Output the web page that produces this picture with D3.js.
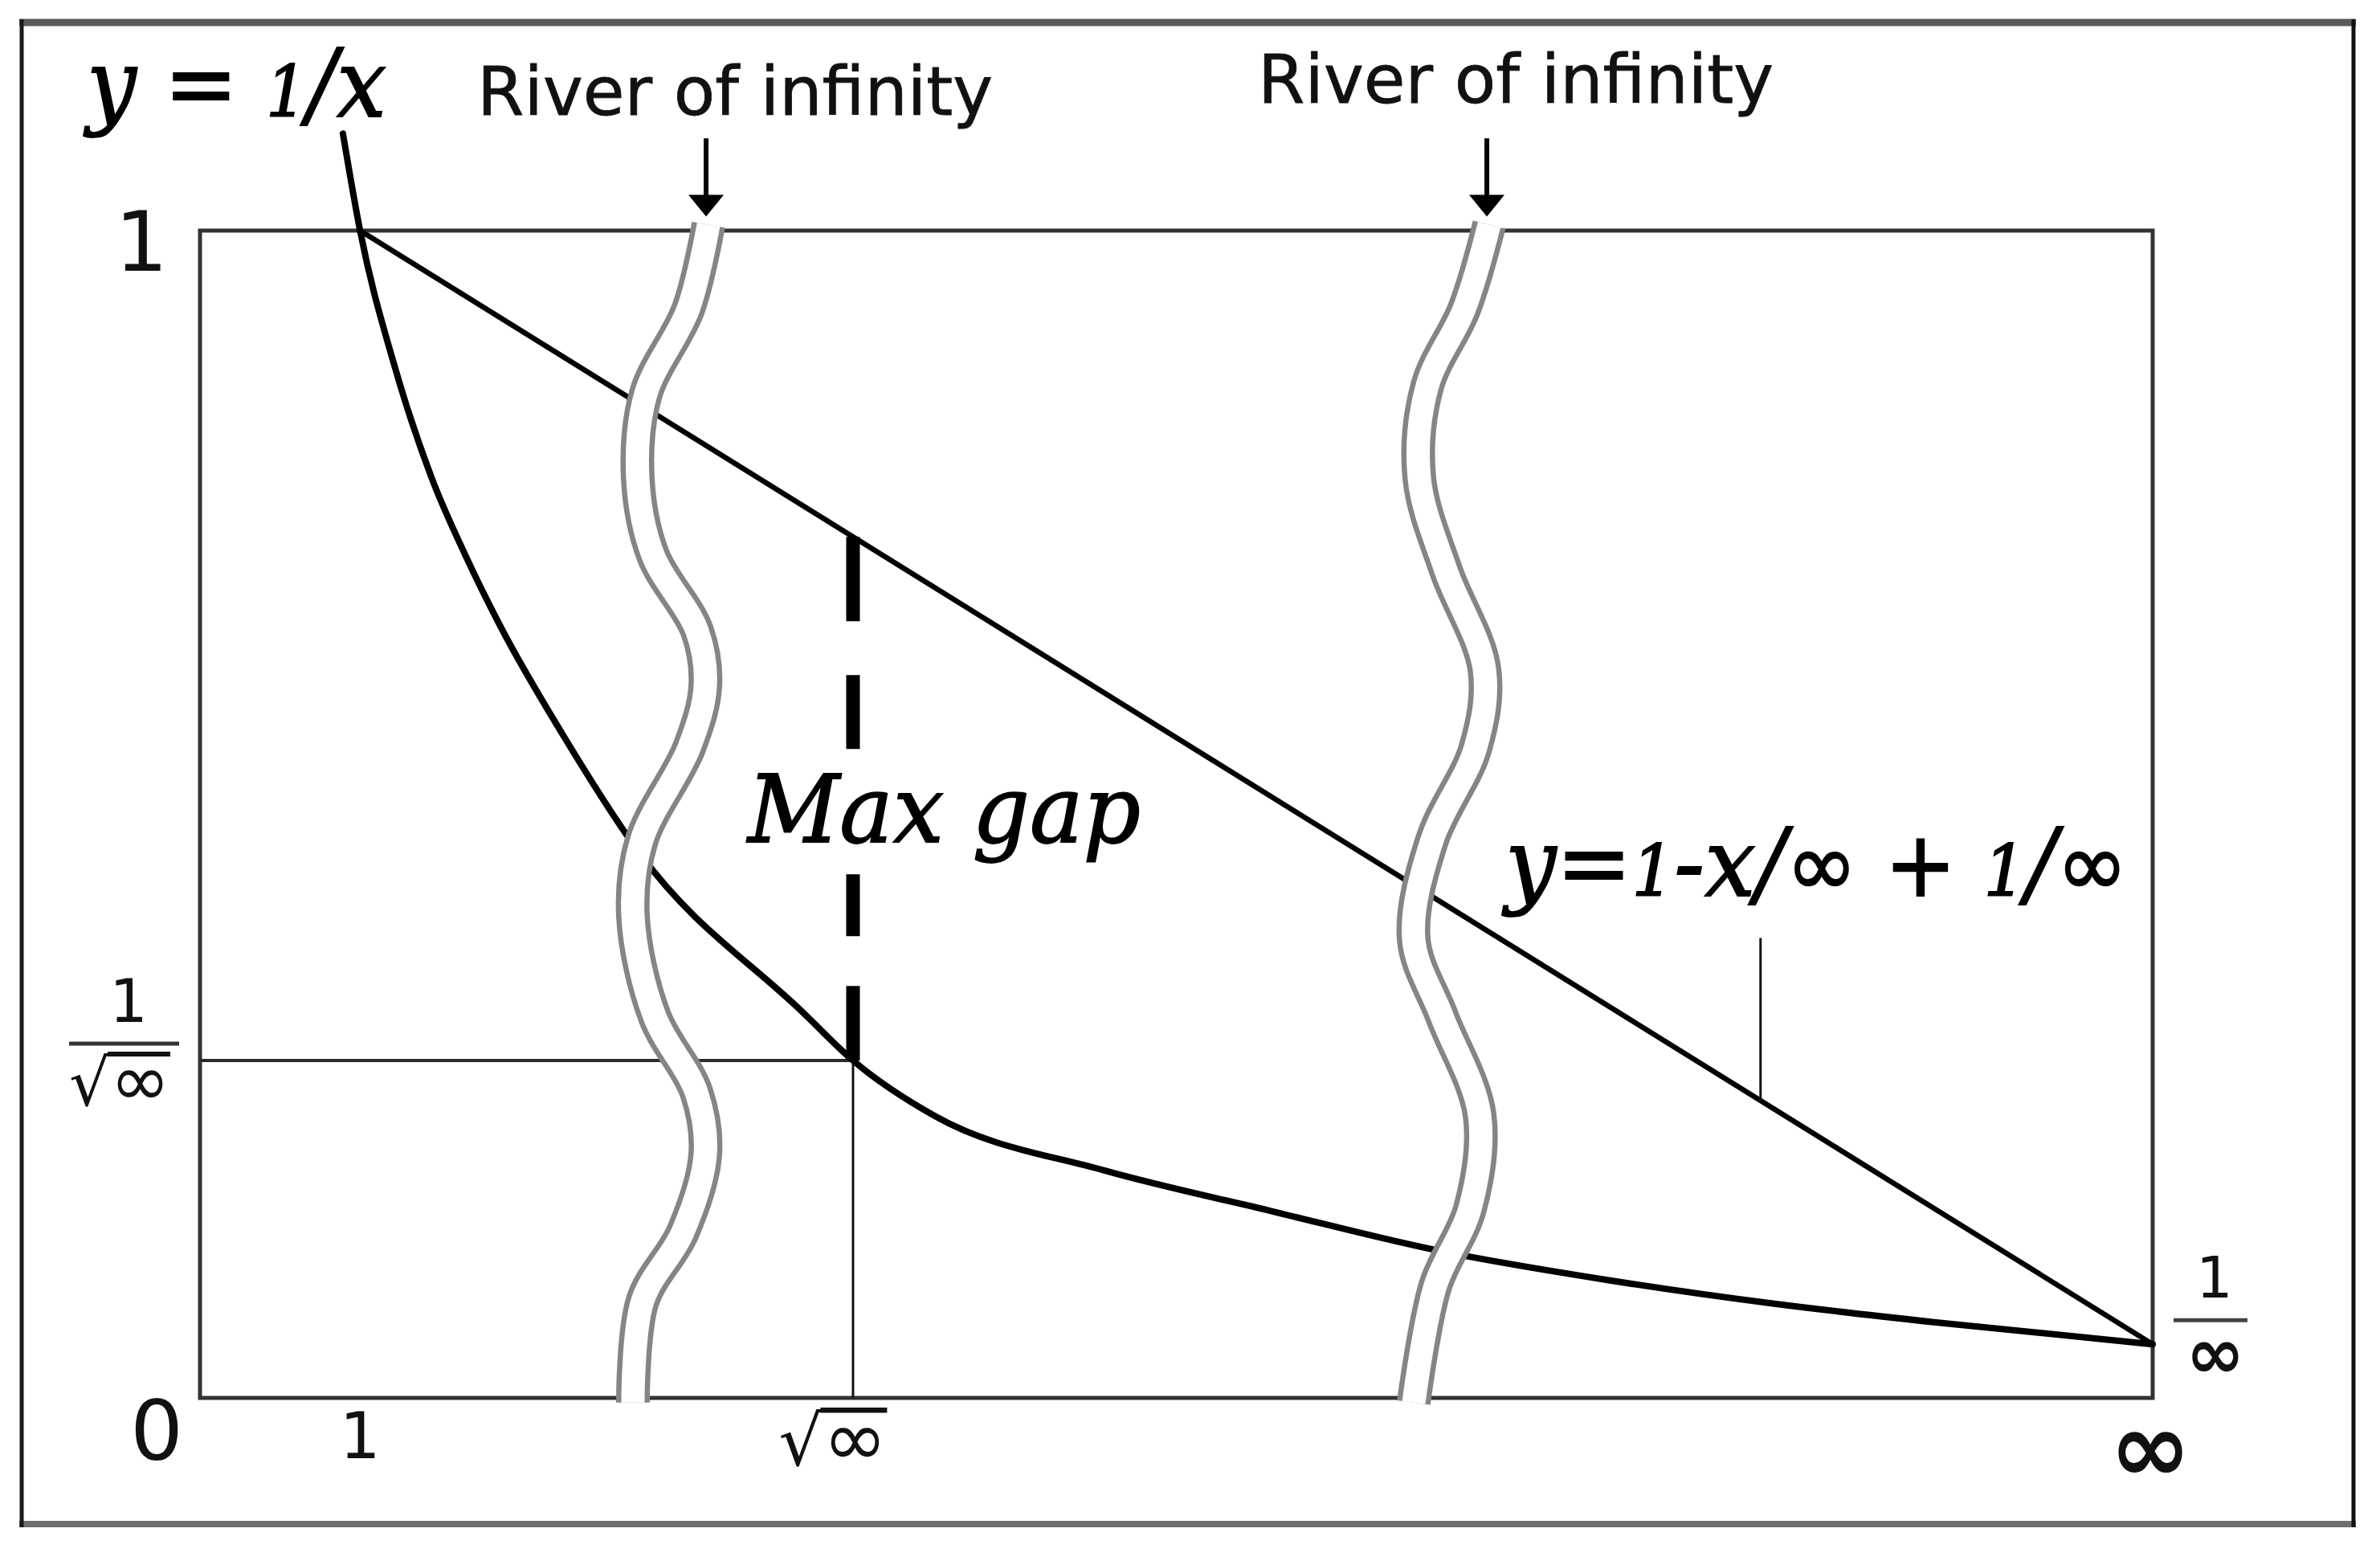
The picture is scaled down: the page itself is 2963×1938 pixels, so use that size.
<!DOCTYPE html>
<html><head><meta charset="utf-8">
<script src="https://cdn.jsdelivr.net/npm/d3@7"></script>
<style>
html,body{margin:0;padding:0;background:#fff;}
svg{display:block;}
</style></head>
<body>
<svg id="chart" width="2963" height="1938"></svg>
<script>
// ================= DATA =================
// x positions on the schematic axis (∞ drawn at 12.2 units, √∞ at 4.08)
const xTicks = [1, 4.08, 12.2];
const xTickLabels = ["1", "√∞", "∞"];
// y positions (1/√∞ at 0.289, 1/∞ at 0.046)
const yTicks = [1, 0.289, 0, 0.046];
const yTickLabels = ["1", "1/√∞", "0", "1/∞"];

// y = 1/x curve
const curveX = [0.893, 1, 1.209, 1.445, 1.661, 1.877, 2.263, 2.750, 3.769, 4.080, 4.597, 5.646, 6.695, 7.744, 8.793, 9.846, 10.895, 12.2];
const curveY = [1.083, 1, 0.887, 0.789, 0.721, 0.661, 0.569, 0.466, 0.330, 0.289, 0.241, 0.195, 0.160, 0.126, 0.101, 0.0805, 0.064, 0.046];

// straight line y = 1 - x/∞ + 1/∞
const lineX = [1, 12.2];
const lineY = [1, 0.046];

// the two "rivers of infinity" (centre lines)
const river1X = [3.177, 3.051, 2.785, 2.735, 2.830, 3.106, 3.157, 3.056, 2.760, 2.705, 2.840, 3.101, 3.157, 3.016, 2.765, 2.705];
const river1Y = [1.005, 0.933, 0.860, 0.788, 0.722, 0.657, 0.610, 0.557, 0.478, 0.413, 0.327, 0.262, 0.209, 0.142, 0.083, -0.004];
const river2X = [8.055, 7.899, 7.668, 7.618, 7.784, 8.025, 7.969, 7.698, 7.583, 7.759, 7.995, 7.934, 7.718, 7.583];
const river2Y = [1.005, 0.933, 0.867, 0.788, 0.709, 0.624, 0.557, 0.478, 0.393, 0.327, 0.242, 0.162, 0.096, -0.004];

const arrowTopY = 1.079, arrowTipY = 1.012;
const riverLabel = "River of infinity";
const gapLabel = "Max gap";
const leaderX = 9.75, leaderTopY = 0.394;

// ================= DRAW =================
const W = 2963, H = 1938;
const SANS = "'DejaVu Sans', Verdana, sans-serif";
const SERIF = "'DejaVu Serif', Georgia, serif";
const svg = d3.select("#chart");
svg.append("rect").attr("width", W).attr("height", H).attr("fill", "#fff");

// outer frame
const fr = svg.append("g");
fr.append("line").attr("x1", 24).attr("x2", 2933).attr("y1", 28).attr("y2", 28).attr("stroke", "#5a5a5a").attr("stroke-width", 9);
fr.append("line").attr("x1", 24).attr("x2", 2933).attr("y1", 1897).attr("y2", 1897).attr("stroke", "#6e6e6e").attr("stroke-width", 8);
fr.append("line").attr("x1", 27).attr("x2", 27).attr("y1", 24).attr("y2", 1901).attr("stroke", "#1a1a1a").attr("stroke-width", 5);
fr.append("line").attr("x1", 2930).attr("x2", 2930).attr("y1", 24).attr("y2", 1901).attr("stroke", "#111").attr("stroke-width", 5);

const X_MAX = xTicks[2];
const x = d3.scaleLinear().domain([0, X_MAX]).range([249, 2680]);
const y = d3.scaleLinear().domain([0, 1]).range([1740, 287]);
const lineAt = d3.scaleLinear().domain(lineX).range(lineY);

const g = svg.append("g");
// plot box
g.append("rect").attr("x", x(0)).attr("y", y(1))
  .attr("width", x(X_MAX) - x(0)).attr("height", y(0) - y(1))
  .attr("fill", "none").attr("stroke", "#333").attr("stroke-width", 5);

// guide lines at √∞ / 1/√∞
g.append("line").attr("x1", x(0)).attr("x2", x(xTicks[1])).attr("y1", y(yTicks[1])).attr("y2", y(yTicks[1]))
  .attr("stroke", "#2a2a2a").attr("stroke-width", 4);
g.append("line").attr("x1", x(xTicks[1])).attr("x2", x(xTicks[1])).attr("y1", y(yTicks[1])).attr("y2", y(0))
  .attr("stroke", "#111").attr("stroke-width", 3);

// curve y=1/x
const curvePts = curveX.map((v, i) => [v, curveY[i]]);
g.append("path").datum(curvePts)
  .attr("d", d3.line().x(d => x(d[0])).y(d => y(d[1])).curve(d3.curveMonotoneX))
  .attr("fill", "none").attr("stroke", "#000").attr("stroke-width", 8).attr("stroke-linecap", "round");

// straight line
const linePts = lineX.map((v, i) => [v, lineY[i]]);
g.append("path").datum(linePts)
  .attr("d", d3.line().x(d => x(d[0])).y(d => y(d[1])))
  .attr("fill", "none").attr("stroke", "#000").attr("stroke-width", 6.5);

// max gap dashed line
g.append("line").attr("x1", x(xTicks[1])).attr("x2", x(xTicks[1]))
  .attr("y1", y(lineAt(xTicks[1]))).attr("y2", y(yTicks[1]))
  .attr("stroke", "#000").attr("stroke-width", 17)
  .attr("stroke-dasharray", "105 67 92 156 77 62 400");

// leader line to the straight line label
g.append("line").attr("x1", x(leaderX)).attr("x2", x(leaderX))
  .attr("y1", y(leaderTopY)).attr("y2", y(lineAt(leaderX)))
  .attr("stroke", "#111").attr("stroke-width", 3);

// rivers
const riverLine = d3.line().x(d => x(d[0])).y(d => y(d[1])).curve(d3.curveCatmullRom.alpha(0.5));
const rivers = [river1X.map((v, i) => [v, river1Y[i]]), river2X.map((v, i) => [v, river2Y[i]])];
rivers.forEach(r => {
  g.append("path").datum(r).attr("d", riverLine).attr("fill", "none").attr("stroke", "#858585").attr("stroke-width", 42);
  g.append("path").datum(r).attr("d", riverLine).attr("fill", "none").attr("stroke", "#fff").attr("stroke-width", 29);
});

// arrows + river labels
const labelOffsets = [0, -15];
rivers.forEach((r, i) => {
  const ax = x(r[0][0]) - 3;
  const tip = y(arrowTipY);
  g.append("line").attr("x1", ax).attr("x2", ax).attr("y1", y(arrowTopY)).attr("y2", tip - 20)
    .attr("stroke", "#000").attr("stroke-width", 6);
  g.append("path").attr("d", `M${ax - 22},${tip - 27}L${ax + 22},${tip - 27}L${ax},${tip}Z`).attr("fill", "#000");
  g.append("text").attr("x", ax + 36).attr("y", y(arrowTopY) - 29 + labelOffsets[i])
    .attr("text-anchor", "middle").attr("font-family", SANS).attr("font-size", 84).attr("fill", "#111")
    .attr("stroke", "#111").attr("stroke-width", 0.8)
    .attr("textLength", 642).attr("lengthAdjust", "spacingAndGlyphs")
    .text(riverLabel);
});

// helper for mixed-style label, squeezed horizontally to a target width
function mixed(xp, yp, fs, parts, len) {
  const t = g.append("text").attr("x", 0).attr("y", 0).attr("font-size", fs).attr("fill", "#000")
    .attr("stroke", "#000").attr("stroke-width", 1.8);
  parts.forEach(p => {
    const s = t.append("tspan").text(p[0]);
    s.attr("font-family", p[1] === "sans" ? SANS : SERIF)
     .attr("font-style", p[1] === "sans" ? "normal" : "italic");
    if (p[2]) s.attr("font-size", fs * p[2]);
  });
  const w = t.node().getComputedTextLength();
  const k = len ? len / w : 1;
  t.attr("transform", `translate(${xp},${yp}) scale(${k},1)`);
  return t;
}
// y = 1/x
mixed(108, 145, 118, [["y", "it"], [" = ", "it"], ["1", "it", 0.74], ["/", "it"], ["x", "it"]], 373);
// straight-line label
mixed(1874, 1115, 118, [["y", "it"], ["=", "it"], ["1", "it", 0.74], ["-", "it"], ["x", "it"], ["/", "it"], ["∞", "sans", 0.95], [" + ", "sans", 0.95], ["1", "it", 0.74], ["/", "it"], ["∞", "sans", 0.95]], 775);
// Max gap
mixed(931, 1048, 116, [[gapLabel, "it"]], 489);

// tick labels
const T = (xp, yp, fs, txt, anchor) => g.append("text").attr("x", xp).attr("y", yp).attr("font-size", fs)
  .attr("font-family", SANS).attr("fill", "#111").attr("text-anchor", anchor || "middle").text(txt);

// y "1" and "0"
T(x(0) - 73, y(yTicks[0]) + 50, 104, yTickLabels[0]);
T(x(0) - 54, y(yTicks[2]) + 77, 104, yTickLabels[2]);
// x "1"
T(x(xTicks[0]), y(0) + 75, 80, xTickLabels[0]);

// root-style label with vinculum
function rootLabel(cx, base, fsR, fsI) {
  const t = g.append("text").attr("x", cx).attr("y", base).attr("font-family", SANS)
    .attr("fill", "#111").attr("text-anchor", "middle");
  t.append("tspan").attr("font-size", fsR).text("√");
  t.append("tspan").attr("font-size", fsI).text("∞");
  const n = t.node();
  const e0 = n.getExtentOfChar(0), e1 = n.getExtentOfChar(1);
  g.append("line").attr("x1", e0.x + e0.width - 3).attr("x2", e1.x + e1.width)
    .attr("y1", base - fsR * 0.80).attr("y2", base - fsR * 0.80)
    .attr("stroke", "#111").attr("stroke-width", fsR * 0.075);
}
// x "√∞"
rootLabel(x(xTicks[1]) - 25, y(0) + 84, 86, 96);
// x "∞"
T(x(xTicks[2]) - 3, y(0) + 104, 122, xTickLabels[2]).attr("font-weight", "bold");

// left fraction 1/√∞
const fy = y(yTicks[1]);
T(x(0) - 89, fy - 48, 75, "1");
g.append("line").attr("x1", x(0) - 163).attr("x2", x(0) - 26).attr("y1", fy - 21).attr("y2", fy - 21)
  .attr("stroke", "#333").attr("stroke-width", 5);
rootLabel(x(0) - 100, fy + 56, 80, 90);

// right fraction 1/∞
const ry = y(yTicks[3]);
T(x(X_MAX) + 77, ry - 58, 72, "1");
g.append("line").attr("x1", x(X_MAX) + 26).attr("x2", x(X_MAX) + 118).attr("y1", ry - 30).attr("y2", ry - 30)
  .attr("stroke", "#444").attr("stroke-width", 5);
T(x(X_MAX) + 78, ry + 42, 88, "∞").attr("font-weight", "bold");
</script>
</body></html>
